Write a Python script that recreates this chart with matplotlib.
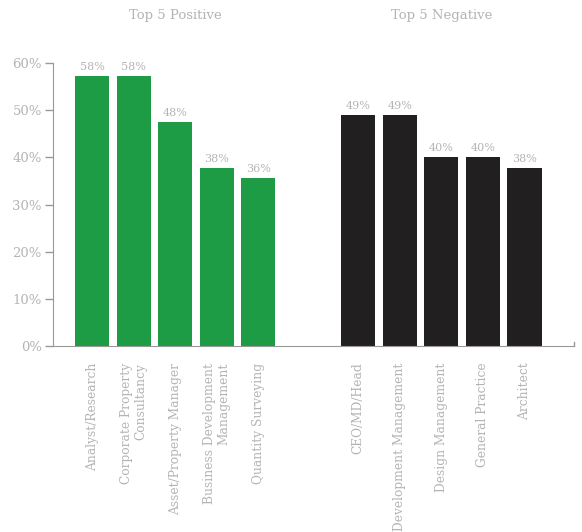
import numpy as np
import matplotlib
matplotlib.use('Agg')
import matplotlib.pyplot as plt
import matplotlib.transforms as mtransforms

plt.rcParams['font.family'] = ['DejaVu Serif']

# data
pos_labels = ['Analyst/Research', 'Corporate Property\nConsultancy', 'Asset/Property Manager',
              'Business Development\nManagement', 'Quantity Surveying']
pos_values = [57.3, 57.3, 47.4, 37.8, 35.6]
pos_text = ['58%', '58%', '48%', '38%', '36%']

neg_labels = ['CEO/MD/Head', 'Development Management', 'Design Management',
              'General Practice', 'Architect']
neg_values = [49.0, 49.0, 40.0, 40.0, 37.8]
neg_text = ['49%', '49%', '40%', '40%', '38%']

green = '#1e9b45'
black = '#221f20'
grey_txt = '#b4b4b4'
grey_line = '#999999'

x_pos = np.arange(5)
x_neg = np.arange(5) + 6.4

fig = plt.figure(figsize=(5.82, 5.32), dpi=100)
ax = fig.add_axes([53/582, 1-346/532, (574-53)/582, (346-63)/532])

ax.bar(x_pos, pos_values, width=0.82, color=green)
ax.bar(x_neg, neg_values, width=0.82, color=black)

for x, v, t in zip(x_pos, pos_values, pos_text):
    ax.annotate(t, (x, v), xytext=(0, 3), textcoords='offset points',
                ha='center', va='bottom', fontsize=8, color=grey_txt)
for x, v, t in zip(x_neg, neg_values, neg_text):
    ax.annotate(t, (x, v), xytext=(0, 3), textcoords='offset points',
                ha='center', va='bottom', fontsize=8, color=grey_txt)

ax.set_xlim(-0.94, 11.59)
ax.set_ylim(0, 60)
ax.set_yticks(np.arange(0, 61, 10))
ax.set_yticklabels([str(t) + '%' for t in range(0, 61, 10)])

ax.set_xticks(np.concatenate([x_pos, x_neg]))
ax.set_xticklabels(pos_labels + neg_labels, rotation=90, ha='center', va='top',
                   multialignment='right')

ax.tick_params(axis='y', length=6, width=1, color=grey_line, labelcolor=grey_txt,
               labelsize=9.5, pad=2)
ax.tick_params(axis='x', length=0, labelcolor=grey_txt, labelsize=8.8, pad=12)

for s in ['top', 'right']:
    ax.spines[s].set_visible(False)
ax.spines['left'].set_color(grey_line)
ax.spines['bottom'].set_color(grey_line)

# small end tick on the right of the baseline
ax.plot([1, 1], [0, 0.015], transform=ax.transAxes, color=grey_line, lw=1, clip_on=False)

trans = mtransforms.blended_transform_factory(ax.transData, fig.transFigure)
ax.text(2, 1 - 15/532, 'Top 5 Positive', transform=trans,
        ha='center', va='center', fontsize=9.5, color=grey_txt)
ax.text(8.4, 1 - 15/532, 'Top 5 Negative', transform=trans,
        ha='center', va='center', fontsize=9.5, color=grey_txt)

plt.savefig('out.png', dpi=100)
